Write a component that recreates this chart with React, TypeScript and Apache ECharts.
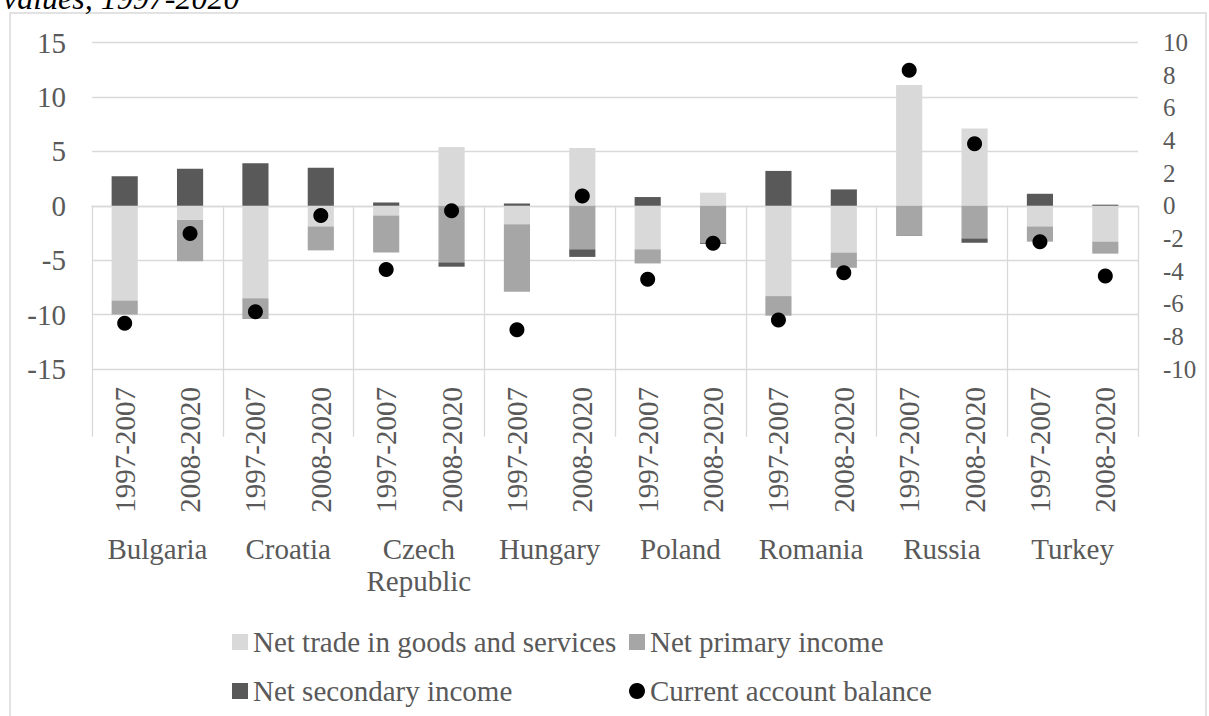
import React, { useEffect, useRef } from 'react';
import * as echarts from 'echarts';

const FONT = '"Liberation Serif", "Times New Roman", serif';

const periods = ['1997-2007', '2008-2020'];
const countries = ['Bulgaria', 'Croatia', 'Czech Republic', 'Hungary', 'Poland', 'Romania', 'Russia', 'Turkey'];

const tradeName = 'Net trade in goods and services';
const primaryName = 'Net primary income';
const secondaryName = 'Net secondary income';
const caName = 'Current account balance';

// order: country x period
const trade = [-8.7, -1.3, -8.5, -1.9, -0.9, 5.4, -1.7, 5.3, -4.0, 1.2, -8.3, -4.3, 11.1, 7.1, -1.9, -3.3];
const primary = [-1.3, -3.8, -1.9, -2.2, -3.4, -5.2, -6.2, -4.0, -1.3, -3.4, -1.8, -1.4, -2.7, -3.0, -1.4, -1.1];
const secondary = [2.7, 3.4, 3.9, 3.5, 0.3, -0.4, 0.2, -0.7, 0.8, -0.1, 3.2, 1.5, -0.05, -0.4, 1.1, 0.1];
const currentAccount = [-7.2, -1.7, -6.5, -0.6, -3.9, -0.3, -7.6, 0.6, -4.5, -2.3, -7.0, -4.1, 8.3, 3.8, -2.2, -4.3];

const leftAxis = { min: -15, max: 15, interval: 5 };
const rightAxis = { min: -10, max: 10, interval: 2 };

const xKeys = countries.flatMap((c) => periods.map((p) => c + '|' + p));

export default function App() {
  const ref = useRef<HTMLDivElement>(null);
  useEffect(() => {
    const chart = echarts.init(ref.current as HTMLDivElement, null, { renderer: 'svg' });
    const labelColor = '#595959';
    const gridColor = '#d9d9d9';
    const option: any = {
      animation: false,
      backgroundColor: '#ffffff',
      textStyle: { fontFamily: FONT },
      grid: { left: 92, right: 71, top: 42.5, bottom: 347, outerBoundsMode: 'none' },
      legend: [
        {
          orient: 'vertical',
          left: 227,
          top: 621,
          itemWidth: 16,
          itemHeight: 16,
          itemGap: 17,
          textStyle: { fontFamily: FONT, fontSize: 29, lineHeight: 32, color: labelColor },
          data: [
            { name: tradeName, icon: 'rect' },
            { name: secondaryName, icon: 'rect' },
          ],
        },
        {
          orient: 'vertical',
          left: 624,
          top: 621,
          itemWidth: 16,
          itemHeight: 16,
          itemGap: 17,
          textStyle: { fontFamily: FONT, fontSize: 29, lineHeight: 32, color: labelColor },
          data: [
            { name: primaryName, icon: 'rect' },
            { name: caName, icon: 'circle' },
          ],
        },
      ],
      xAxis: [
        {
          type: 'category',
          position: 'bottom',
          data: xKeys,
          axisLine: { show: true, lineStyle: { color: gridColor, width: 1.3 } },
          axisTick: { show: false },
          axisLabel: {
            rotate: 90,
            margin: 18,
            interval: 0,
            fontFamily: FONT,
            fontSize: 29,
            color: labelColor,
            formatter: (v: string) => v.split('|')[1],
          },
        },
        {
          type: 'category',
          position: 'bottom',
          data: countries,
          axisLine: { show: false },
          axisTick: { show: true, length: 231, interval: 0, lineStyle: { color: gridColor, width: 1.3 } },
          axisLabel: {
            margin: 164,
            interval: 0,
            fontFamily: FONT,
            fontSize: 29,
            lineHeight: 32,
            color: labelColor,
            formatter: (v: string) => v.replace(' ', '\n'),
          },
          splitLine: { show: false },
        },
      ],
      yAxis: [
        {
          type: 'value',
          min: leftAxis.min,
          max: leftAxis.max,
          interval: leftAxis.interval,
          axisLine: { show: false },
          axisTick: { show: false },
          axisLabel: { fontFamily: FONT, fontSize: 29, color: labelColor, margin: 26 },
          splitLine: { show: true, lineStyle: { color: gridColor, width: 1.3 } },
        },
        {
          type: 'value',
          position: 'right',
          min: rightAxis.min,
          max: rightAxis.max,
          interval: rightAxis.interval,
          axisLine: { show: false },
          axisTick: { show: false },
          axisLabel: { fontFamily: FONT, fontSize: 25, color: labelColor, margin: 25 },
          splitLine: { show: false },
        },
      ],
      series: [
        { name: tradeName, type: 'bar', stack: 'total', barWidth: '40%', data: trade, itemStyle: { color: '#d9d9d9' } },
        { name: primaryName, type: 'bar', stack: 'total', barWidth: '40%', data: primary, itemStyle: { color: '#a6a6a6' } },
        { name: secondaryName, type: 'bar', stack: 'total', barWidth: '40%', data: secondary, itemStyle: { color: '#595959' } },
        {
          name: caName,
          type: 'scatter',
          yAxisIndex: 1,
          data: currentAccount,
          symbol: 'circle',
          symbolSize: 15,
          itemStyle: { color: '#000000', opacity: 1 },
          z: 5,
        },
      ],
      graphic: [
        {
          type: 'rect',
          silent: true,
          shape: { x: 10, y: 13, width: 1196, height: 760 },
          style: { fill: 'none', stroke: '#d9d9d9', lineWidth: 1.5 },
        },
        {
          type: 'text',
          x: 3,
          y: 14,
          silent: true,
          style: {
            text: 'values, 1997-2020',
            font: 'italic 32px "Liberation Serif"',
            fill: '#000000',
            verticalAlign: 'bottom',
          },
        },
      ],
    };
    chart.setOption(option);
    return () => chart.dispose();
  }, []);
  return <div ref={ref} style={{ position: 'absolute', left: 0, top: 0, width: 1209, height: 716 }} />;
}
